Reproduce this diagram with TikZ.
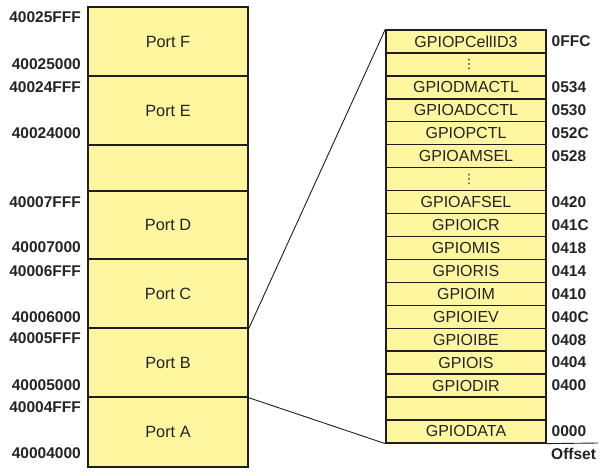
\documentclass[tikz,border=0pt]{standalone}
\usepackage{fontspec}
\setmainfont{Liberation Sans}
\newfontfamily\dejafont{DejaVu Sans}
\definecolor{cellfill}{RGB}{255,247,160}
\definecolor{linec}{RGB}{30,30,30}
\definecolor{txtc}{RGB}{35,35,35}
\begin{document}
\begin{tikzpicture}[x=1pt,y=-1pt,
  cell/.style={draw=linec, line width=1.4pt, fill=cellfill, minimum width=160pt, inner sep=0pt, text=txtc, font=\fontsize{16.3}{16.3}\selectfont},
  reg/.style={draw=linec, line width=1.4pt, fill=cellfill, minimum width=160pt, minimum height=22.94pt, inner sep=0pt, text=txtc, font=\fontsize{16}{16}\selectfont},
  dotsy/.style={inner sep=0pt, text=txtc, font=\dejafont\fontsize{13}{13}\selectfont},
  addr/.style={anchor=east, inner sep=0pt, text=txtc, font=\bfseries\fontsize{15.5}{15.5}\selectfont},
  off/.style={anchor=west, inner sep=0pt, text=txtc, font=\bfseries\fontsize{15.5}{15.5}\selectfont},
  conn/.style={draw=linec, line width=0.9pt}]
\useasboundingbox (0,0) rectangle (610,474);
% left memory map
\node[cell, minimum height=69pt] (pF) at (168,41.5) {Port F};
\node[cell, minimum height=69pt] (pE) at (168,110.5) {Port E};
\node[cell, minimum height=46pt] (pG) at (168,168) {};
\node[cell, minimum height=68pt] (pD) at (168,225) {Port D};
\node[cell, minimum height=69pt] (pC) at (168,293.5) {Port C};
\node[cell, minimum height=69pt] (pB) at (168,362.5) {Port B};
\node[cell, minimum height=70pt] (pA) at (168,432) {Port A};
% addresses
\node[addr] (a1) at (81,17) {40025FFF};
\node[addr] (a2) at (81,64) {40025000};
\node[addr] (a3) at (81,87) {40024FFF};
\node[addr] (a4) at (81,133) {40024000};
\node[addr] (a5) at (81,202) {40007FFF};
\node[addr] (a6) at (81,247) {40007000};
\node[addr] (a7) at (81,271) {40006FFF};
\node[addr] (a8) at (81,317) {40006000};
\node[addr] (a9) at (81,338) {40005FFF};
\node[addr] (a10) at (81,385) {40005000};
\node[addr] (a11) at (81,407) {40004FFF};
\node[addr] (a12) at (81,453) {40004000};
% right register map
\foreach \i/\t/\o in {1/GPIOPCellID3/0FFC, 2/{}/{}, 3/GPIODMACTL/0534, 4/GPIOADCCTL/0530,
  5/GPIOPCTL/052C, 6/GPIOAMSEL/0528, 7/{}/{}, 8/GPIOAFSEL/0420, 9/GPIOICR/041C,
  10/GPIOMIS/0418, 11/GPIORIS/0414, 12/GPIOIM/0410, 13/GPIOIEV/040C, 14/GPIOIBE/0408,
  15/GPIOIS/0404, 16/GPIODIR/0400, 17/{}/{}, 18/GPIODATA/0000}{
  \node[reg] (r\i) at (466,{30+(\i-0.5)*22.94}) {\t};
  \node[off] (o\i) at (551.5,{30+(\i-0.5)*22.94}) {\o};
}
\node[dotsy] (d1) at (469,{30+1.5*22.94}) {⋮};
\node[dotsy] (d2) at (469,{30+6.5*22.94}) {⋮};
\node[off] (offl) at (551,454) {Offset};
\coordinate (offend) at (598,443);
% connectors
\draw[conn] (pC.south east) -- (r1.north west);
\draw[conn] (pB.south east) -- (r18.south west);
\draw[conn] (r18.south east) -- (offend);
\end{tikzpicture}
\end{document}
